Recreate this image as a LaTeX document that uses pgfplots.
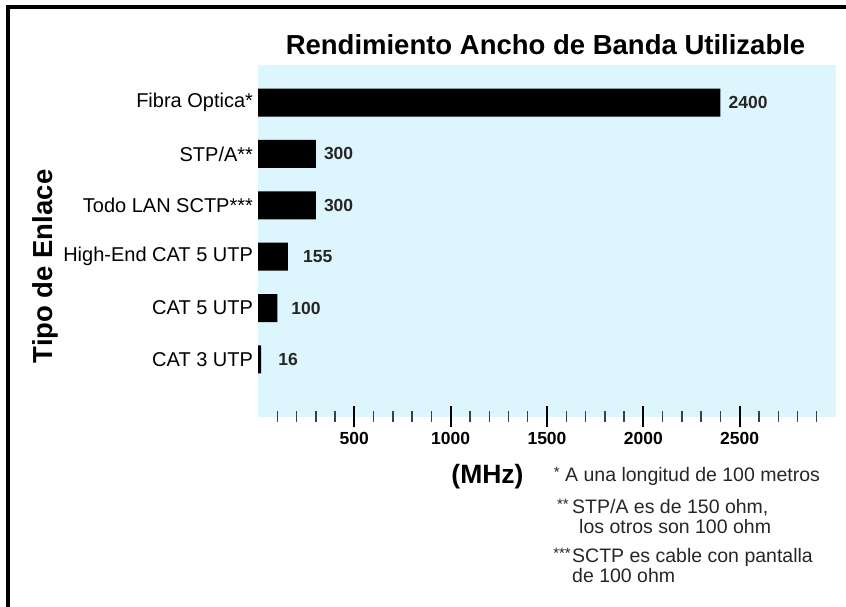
\documentclass[border=0pt]{standalone}
\usepackage{fontspec}
\setmainfont{Liberation Sans}
\usepackage{pgfplots}
\usepackage{pgfplotstable}
\pgfplotsset{compat=1.18}
\definecolor{skyback}{RGB}{221,245,253}
\pgfplotstableread{
x y dx lab
16 0 17 16
100 1 14 100
155 2 15 155
300 3 8 300
300 4 8 300
2400 5 8 2400
}\banddata
\begin{document}
\begin{tikzpicture}[x=1pt,y=1pt]
\useasboundingbox (0,0) rectangle (846,607);
\draw[line width=4pt] (8,-5) -- (8,600) -- (851,600);
\begin{axis}[
  at={(258pt,190pt)}, anchor=south west,
  scale only axis, width=578pt, height=352pt,
  xmin=0, xmax=3000, ymin=-1.119, ymax=5.73,
  enlargelimits=false, clip=false,
  axis background/.style={fill=skyback},
  axis line style={draw=none},
  xtick pos=bottom, ytick pos=left,
  tick align=center,
  xtick={500,1000,1500,2000,2500},
  xticklabels={500,1000,1500,2000,2500},
  minor xtick={100,200,...,2900},
  major tick length=21pt, minor tick length=11pt,
  x tick style={black, line width=2pt},
  minor x tick style={black!75, line width=1.4pt},
  ytick={0,1,2,3,4,5},
  yticklabels={CAT 3 UTP, CAT 5 UTP, High-End CAT 5 UTP, Todo LAN SCTP***, STP/A**, Fibra Optica*},
  y tick style={draw=none},
  xticklabel style={font=\fontsize{17.5}{20}\selectfont\bfseries, anchor=base, yshift=-17pt},
  yticklabel style={font=\fontsize{20}{23}\selectfont, anchor=east, xshift=9pt},
]
\addplot[xbar, fill=black, draw=none, bar width=28pt,
  point meta=explicit symbolic,
  visualization depends on={\thisrow{dx} \as \dxlab},
  nodes near coords,
  every node near coord/.append style={anchor=west, inner sep=0pt, xshift=\dxlab pt,
     font=\fontsize{17.5}{20}\selectfont\bfseries, text=black!85},
] table[x=x, y=y, meta=lab] {\banddata};
\end{axis}
% titles and labels
\node[anchor=base, font=\fontsize{27.5}{32}\selectfont\bfseries] at (545.5,552) {Rendimiento Ancho de Banda Utilizable};
\node[anchor=base, rotate=90, font=\fontsize{27.5}{32}\selectfont\bfseries] at (53,340.5) {Tipo de Enlace};
\node[anchor=base, font=\fontsize{26.5}{30}\selectfont\bfseries] at (487.5,123) {(MHz)};
% footnotes
\begin{scope}[every node/.style={inner sep=0pt, font=\fontsize{19.5}{23}\selectfont, text=black!85}]
\node[anchor=base east, font=\fontsize{15}{18}\selectfont] at (560,129) {*};
\node[anchor=base west] at (565,125) {A una longitud de 100 metros};
\node[anchor=base east, font=\fontsize{15}{18}\selectfont] at (569,97) {**};
\node[anchor=base west] at (572,93) {STP/A es de 150 ohm,};
\node[anchor=base west] at (579,73.5) {los otros son 100 ohm};
\node[anchor=base east, font=\fontsize{15}{18}\selectfont] at (571,48) {***};
\node[anchor=base west] at (572,44) {SCTP es cable con pantalla};
\node[anchor=base west] at (572,24) {de 100 ohm};
\end{scope}
\end{tikzpicture}
\end{document}
